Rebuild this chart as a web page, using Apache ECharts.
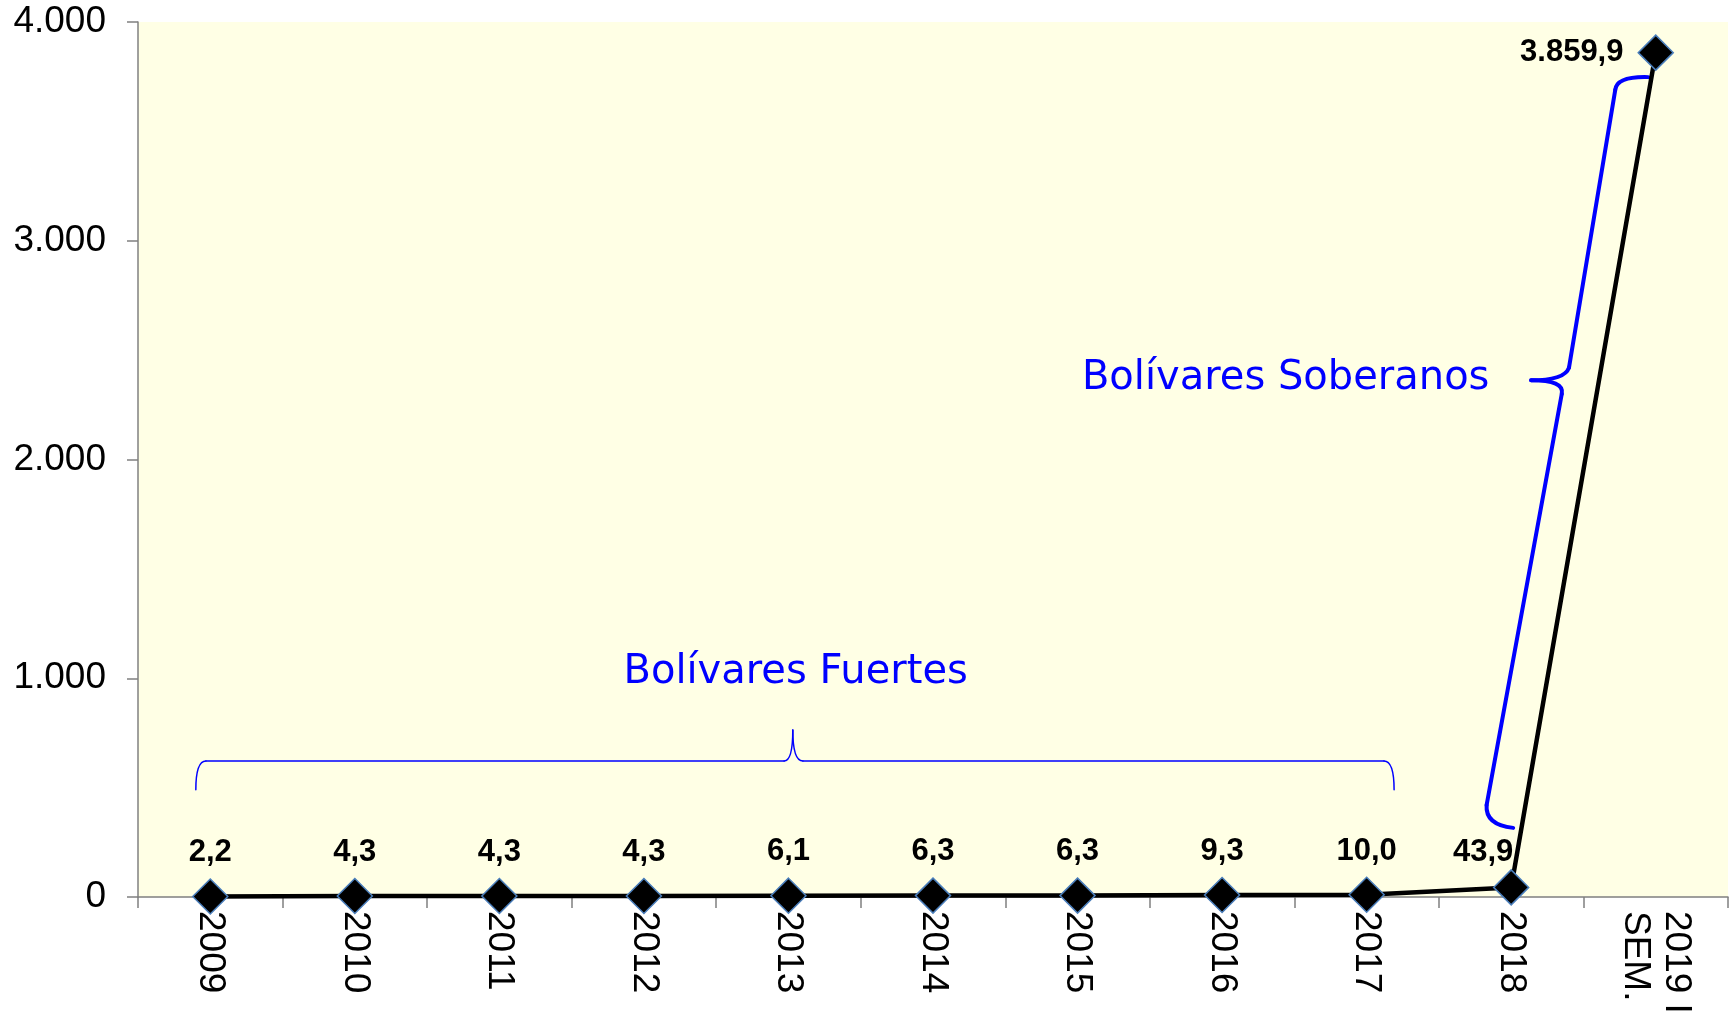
<!DOCTYPE html>
<html>
<head>
<meta charset="utf-8">
<script src="https://cdn.jsdelivr.net/npm/echarts@6/dist/echarts.min.js"></script>
<style>
  html, body { margin: 0; padding: 0; background: #fff; }
  #main { width: 1735px; height: 1011px; }
</style>
</head>
<body>
<div id="main"></div>
<script>
// categorias y valores
const years = ["2009", "2010", "2011", "2012", "2013", "2014", "2015", "2016", "2017", "2018", "2019 I\nSEM."];
const values = [2.2, 4.3, 4.3, 4.3, 6.1, 6.3, 6.3, 9.3, 10.0, 43.9, 3859.9];
const yTicks = [0, 1000, 2000, 3000, 4000];

// anotaciones: [indice categoria, valor]
const fuertesText = { text: "Bolívares Fuertes", at: [4.05, 1025] };
const soberanosText = { text: "Bolívares Soberanos", at: [7.44, 2371] };

const miles = (s) => s.replace(/\B(?=(\d{3})+(?!\d))/g, ".");
const fmtVal = (v) => {
  const p = v.toFixed(1).split(".");
  return miles(p[0]) + "," + p[1];
};

const chart = echarts.init(document.getElementById("main"));

const seriesData = values.map((v, i) => {
  if (i === 9) return { value: v, label: { distance: 1, offset: [-28, 0] } };
  if (i === 10) return { value: v, label: { position: "left", distance: 14 } };
  return v;
});

chart.setOption({
  animation: false,
  backgroundColor: "#fff",
  grid: {
    left: 138, right: 7, top: 22, bottom: 114,
    outerBoundsMode: "none",
    containLabel: false,
    show: true, backgroundColor: "#FFFFE5", borderWidth: 0,
  },
  xAxis: {
    type: "category",
    data: years,
    boundaryGap: true,
    axisLine: { lineStyle: { color: "#808080", width: 1.5 } },
    axisTick: { show: true, length: 11, lineStyle: { color: "#808080", width: 1.5 } },
    axisLabel: {
      rotate: -90,
      margin: 14,
      interval: 0,
      color: "#000",
      fontSize: 37,
      fontFamily: "'Liberation Sans', Arial, sans-serif",
      lineHeight: 41,
    },
  },
  yAxis: {
    type: "value",
    min: 0, max: 4000, interval: 1000,
    axisLine: { show: true, lineStyle: { color: "#808080", width: 1.5 } },
    axisTick: { show: true, length: 11, lineStyle: { color: "#808080", width: 1.5 } },
    splitLine: { show: false },
    axisLabel: {
      margin: 32,
      color: "#000",
      fontSize: 37,
      fontFamily: "'Liberation Sans', Arial, sans-serif",
      formatter: (v) => miles(String(v)),
    },
  },
  series: [
    {
      type: "line",
      data: seriesData,
      symbol: "diamond",
      symbolSize: 35,
      itemStyle: { color: "#000", borderColor: "#4A7EBB", borderWidth: 1.5 },
      lineStyle: { color: "#000", width: 4.5 },
      label: {
        show: true,
        position: "top",
        distance: 10,
        color: "#000",
        fontSize: 31,
        fontWeight: "bold",
        fontFamily: "'Liberation Sans', Arial, sans-serif",
        formatter: (p) => fmtVal(p.value),
      },
      z: 5,
    },
  ],
});

// (indice fraccional, valor) -> pixeles
const a0 = chart.convertToPixel({ gridIndex: 0 }, [0, 0]);
const a1 = chart.convertToPixel({ gridIndex: 0 }, [1, 4000]);
const px = (i, v) => [a0[0] + i * (a1[0] - a0[0]), a0[1] + (v / 4000) * (a1[1] - a0[1])];

// piezas de llave: ["L", p1, p2] o ["Q", p1, ctrl, p2]
const fuertesBrace = [
  ["Q", [-0.10, 490], [-0.10, 622], [-0.03, 622]],
  ["L", [-0.03, 622], [3.97, 622]],
  ["Q", [3.97, 622], [4.03, 622], [4.03, 764]],
  ["Q", [4.03, 764], [4.03, 622], [4.10, 622]],
  ["L", [4.10, 622], [8.12, 622]],
  ["Q", [8.12, 622], [8.19, 622], [8.19, 490]],
];
const soberanosBrace = [
  ["Q", [9.948, 3748], [9.73, 3752], [9.72, 3690]],
  ["L", [9.72, 3690], [9.40, 2420]],
  ["Q", [9.40, 2420], [9.37, 2362], [9.138, 2362]],
  ["Q", [9.138, 2362], [9.37, 2362], [9.35, 2300]],
  ["L", [9.35, 2300], [8.83, 420]],
  ["Q", [8.83, 420], [8.82, 330], [9.014, 316]],
];

const braceEls = (pieces, width) => pieces.map((s) => {
  const style = { stroke: "#0000FF", lineWidth: width, fill: null, lineCap: "round" };
  if (s[0] === "L") {
    const p1 = px(...s[1]), p2 = px(...s[2]);
    return { type: "line", shape: { x1: p1[0], y1: p1[1], x2: p2[0], y2: p2[1] }, style, z: 3 };
  }
  const p1 = px(...s[1]), c = px(...s[2]), p2 = px(...s[3]);
  return {
    type: "bezierCurve",
    shape: { x1: p1[0], y1: p1[1], cpx1: c[0], cpy1: c[1], x2: p2[0], y2: p2[1] },
    style, z: 3,
  };
});

const tf = px(...fuertesText.at);
const ts = px(...soberanosText.at);

chart.setOption({
  graphic: [
    ...braceEls(fuertesBrace, 1.5),
    ...braceEls(soberanosBrace, 4),
    {
      type: "text",
      x: tf[0], y: tf[1],
      style: {
        text: fuertesText.text, fill: "#0000FF",
        font: "40px 'DejaVu Sans', Verdana, sans-serif",
        align: "center", verticalAlign: "middle",
      },
      z: 3,
    },
    {
      type: "text",
      x: ts[0], y: ts[1],
      style: {
        text: soberanosText.text, fill: "#0000FF",
        font: "40px 'DejaVu Sans', Verdana, sans-serif",
        align: "center", verticalAlign: "middle",
      },
      z: 3,
    },
  ],
});
</script>
</body>
</html>
